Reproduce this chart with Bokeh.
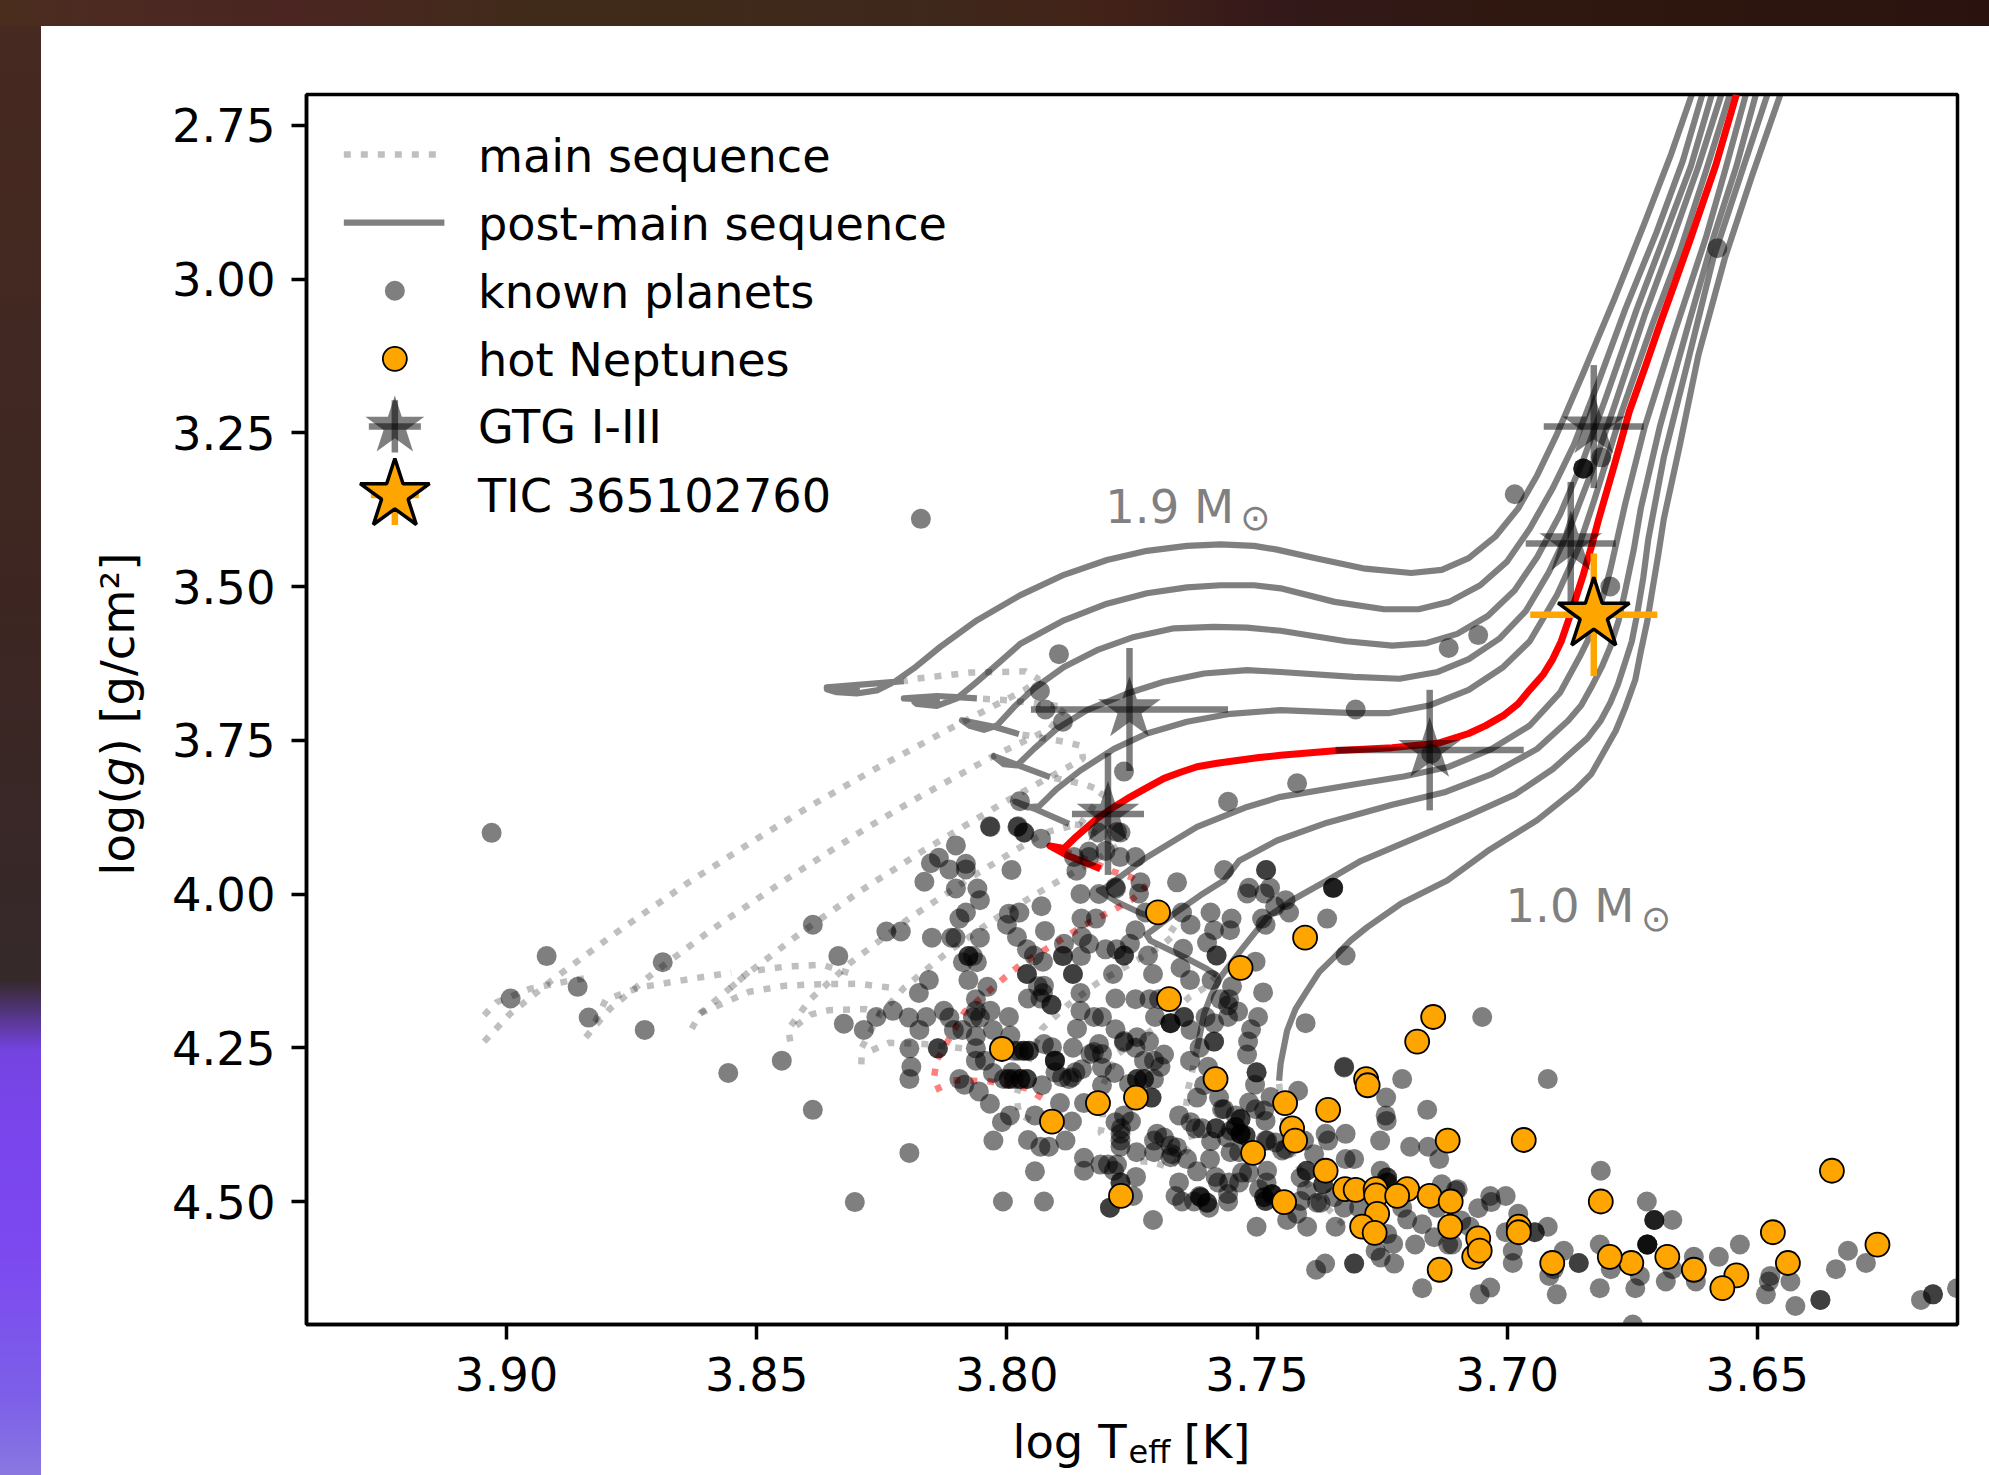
from bokeh.embed import file_html
from bokeh.resources import INLINE
from bokeh.plotting import figure
from bokeh.models import Range1d, FixedTicker, Label

# ---------- axes ----------
x_ticks = [3.90, 3.85, 3.80, 3.75, 3.70, 3.65]
y_ticks = [2.75, 3.00, 3.25, 3.50, 3.75, 4.00, 4.25, 4.50]
x_tick_labels = ["3.90", "3.85", "3.80", "3.75", "3.70", "3.65"]
y_tick_labels = ["2.75", "3.00", "3.25", "3.50", "3.75", "4.00", "4.25", "4.50"]
legend_labels = ["main sequence", "post-main sequence", "known planets", "hot Neptunes", "GTG I-III", "TIC 365102760"]

# ---------- post-main-sequence tracks (log Teff, log g), 1.9 ... 1.0 Msun ----------
post_19 = [(3.8206,3.654),(3.8286,3.659),(3.836,3.664),(3.83,3.666),(3.836,3.667),(3.834,3.672),(3.83,3.674),(3.826,3.669),(3.8223,3.654),(3.8186,3.633),(3.8133,3.598),(3.806,3.555),(3.7973,3.514),(3.7886,3.481),(3.78,3.457),(3.772,3.442),(3.764,3.434),(3.7573,3.4315),(3.7506,3.434),(3.746,3.44),(3.7383,3.454),(3.7284,3.471),(3.7192,3.478),(3.7131,3.473),(3.7077,3.454),(3.7024,3.419),(3.6978,3.373),(3.694,3.319),(3.6901,3.253),(3.6848,3.153),(3.6786,3.033),(3.6725,2.908),(3.6672,2.796),(3.6631,2.7)]
post_18 = [(3.806,3.682),(3.81,3.68),(3.814,3.678),(3.8206,3.682),(3.814,3.685),(3.8185,3.688),(3.818,3.691),(3.814,3.694),(3.81,3.682),(3.806,3.655),(3.8026,3.631),(3.7973,3.593),(3.7886,3.555),(3.78,3.528),(3.772,3.511),(3.764,3.5015),(3.7573,3.498),(3.7506,3.498),(3.7453,3.503),(3.7345,3.525),(3.7246,3.537),(3.7177,3.537),(3.7116,3.525),(3.7054,3.498),(3.7001,3.46),(3.6955,3.406),(3.6909,3.34),(3.6867,3.27),(3.6817,3.166),(3.6764,3.049),(3.6702,2.925),(3.6649,2.808),(3.661,2.7)]
post_17 = [(3.7976,3.74),(3.8026,3.728),(3.809,3.7175),(3.8073,3.727),(3.8046,3.733),(3.802,3.726),(3.7986,3.696),(3.7946,3.666),(3.7886,3.631),(3.782,3.6035),(3.7746,3.582),(3.7666,3.568),(3.7586,3.5655),(3.752,3.567),(3.7453,3.572),(3.7322,3.589),(3.723,3.596),(3.7161,3.592),(3.71,3.577),(3.7039,3.548),(3.6985,3.506),(3.694,3.452),(3.6894,3.382),(3.6848,3.294),(3.6802,3.191),(3.6741,3.049),(3.6687,2.933),(3.6633,2.817),(3.6591,2.7)]
post_16 = [(3.7914,3.81),(3.7986,3.788),(3.8026,3.776),(3.8006,3.789),(3.798,3.791),(3.7946,3.764),(3.79,3.731),(3.784,3.701),(3.776,3.674),(3.7686,3.655),(3.7606,3.6415),(3.752,3.636),(3.7453,3.639),(3.7307,3.647),(3.7215,3.65),(3.7139,3.639),(3.7077,3.618),(3.7016,3.585),(3.6963,3.54),(3.6917,3.477),(3.6875,3.406),(3.6832,3.315),(3.6786,3.207),(3.6725,3.058),(3.6672,2.941),(3.6618,2.817),(3.6572,2.7)]
post_15 = [(3.7876,3.886),(3.7946,3.861),(3.7983,3.85),(3.796,3.859),(3.7936,3.8575),(3.79,3.829),(3.7853,3.799),(3.7786,3.764),(3.772,3.739),(3.764,3.72),(3.7553,3.707),(3.7453,3.701),(3.7307,3.706),(3.7238,3.706),(3.7154,3.693),(3.7077,3.668),(3.7008,3.631),(3.6955,3.589),(3.6901,3.5145),(3.6859,3.44),(3.6825,3.357),(3.6771,3.2155),(3.671,3.074),(3.6656,2.958),(3.6603,2.825),(3.6555,2.7)]
post_14 = [(3.7813,3.959),(3.788,3.937),(3.7914,3.922),(3.7886,3.926),(3.7866,3.91),(3.7843,3.8938),(3.782,3.8775),(3.7786,3.8585),(3.7753,3.842),(3.772,3.8271),(3.7686,3.812),(3.7653,3.8021),(3.762,3.793),(3.758,3.7875),(3.754,3.783),(3.7496,3.7782),(3.7453,3.7744),(3.7345,3.767),(3.723,3.762),(3.7139,3.755),(3.7077,3.739),(3.7043,3.7262),(3.7008,3.71),(3.6978,3.6906),(3.6955,3.668),(3.6928,3.6431),(3.6909,3.618),(3.6892,3.589),(3.6878,3.556),(3.6863,3.519),(3.6848,3.481),(3.6832,3.436),(3.6817,3.39),(3.6786,3.3027),(3.6756,3.2155),(3.6725,3.145),(3.6695,3.074),(3.6664,3.004),(3.6633,2.933),(3.6584,2.817),(3.6542,2.7)]
post_13 = [(3.77,4.04),(3.7733,4.031),(3.778,4.013),(3.7816,3.994),(3.7806,3.9915),(3.772,3.94),(3.762,3.891),(3.752,3.8585),(3.7453,3.842),(3.7307,3.822),(3.7207,3.809),(3.7116,3.793),(3.7031,3.764),(3.6955,3.726),(3.6894,3.672),(3.6855,3.614),(3.6839,3.5876),(3.6825,3.556),(3.6808,3.5145),(3.6794,3.473),(3.6779,3.419),(3.6764,3.365),(3.6725,3.24),(3.6664,3.083),(3.6603,2.933),(3.6565,2.825),(3.6523,2.7)]
post_12 = [(3.758,4.1325),(3.76,4.122),(3.764,4.105),(3.768,4.089),(3.7713,4.076),(3.7721,4.066),(3.7706,4.057),(3.7666,4.032),(3.7613,4.002),(3.7566,3.978),(3.7536,3.946),(3.746,3.913),(3.736,3.884),(3.723,3.855),(3.7123,3.834),(3.7031,3.805),(3.694,3.764),(3.6878,3.718),(3.6852,3.6931),(3.6832,3.664),(3.6811,3.6308),(3.6794,3.598),(3.6777,3.5544),(3.6764,3.506),(3.6747,3.4397),(3.6733,3.373),(3.6695,3.24),(3.6641,3.083),(3.6588,2.933),(3.6542,2.817),(3.6503,2.7)]
post_11 = [(3.762,4.252),(3.7606,4.195),(3.7592,4.1651),(3.7573,4.135),(3.7553,4.1136),(3.7533,4.092),(3.748,4.038),(3.7426,4.008),(3.736,3.978),(3.7292,3.946),(3.7207,3.917),(3.7077,3.872),(3.6985,3.8385),(3.6909,3.797),(3.684,3.747),(3.6813,3.718),(3.6794,3.689),(3.6779,3.6599),(3.6764,3.6225),(3.6751,3.5892),(3.6741,3.548),(3.6728,3.4854),(3.6718,3.423),(3.6687,3.29),(3.6641,3.141),(3.6588,2.966),(3.6534,2.833),(3.648,2.7)]
post_10 = [(3.7456,4.3035),(3.7453,4.276),(3.744,4.222),(3.7423,4.1868),(3.74,4.157),(3.7376,4.1271),(3.7346,4.103),(3.7313,4.0756),(3.728,4.054),(3.7213,4.016),(3.712,3.978),(3.7039,3.93),(3.694,3.88),(3.6863,3.83),(3.6832,3.805),(3.6809,3.772),(3.6783,3.7346),(3.6764,3.697),(3.6744,3.6516),(3.6733,3.606),(3.672,3.556),(3.671,3.506),(3.6698,3.448),(3.6687,3.39),(3.6656,3.274),(3.6618,3.124),(3.6565,2.966),(3.6511,2.833),(3.6454,2.7)]

# ---------- main-sequence tracks ----------
ms_19 = [(3.9045,4.24),(3.8994,4.1955),(3.891,4.1405),(3.879,4.068),(3.8639,3.9825),(3.8484,3.902),(3.8391,3.856),(3.8262,3.796),(3.8101,3.7256),(3.7966,3.669),(3.7936,3.651),(3.7963,3.638),(3.8073,3.64),(3.8183,3.65),(3.8206,3.654)]
ms_19b = [(3.9045,4.197),(3.902,4.176),(3.8953,4.154),(3.888,4.142),(3.8844,4.137)]
ms_18 = [(3.8842,4.233),(3.8794,4.187),(3.8708,4.1295),(3.8591,4.0585),(3.8439,3.975),(3.8284,3.8945),(3.8188,3.848),(3.8028,3.776),(3.7913,3.731),(3.7883,3.696),(3.7996,3.685),(3.806,3.682)]
ms_18b = [(3.8823,4.208),(3.8802,4.172),(3.8734,4.152),(3.8624,4.137),(3.8551,4.128)]
ms_17 = [(3.863,4.219),(3.8613,4.194),(3.8526,4.134),(3.841,4.062),(3.829,3.9935),(3.8166,3.929),(3.8008,3.852),(3.7944,3.823),(3.788,3.7945),(3.7848,3.78),(3.7852,3.759),(3.7888,3.752),(3.7976,3.74)]
ms_17b = [(3.8613,4.194),(3.8515,4.159),(3.8443,4.149),(3.8369,4.1465),(3.8297,4.146),(3.8225,4.153)]
ms_17c = [(3.8553,4.153),(3.8515,4.126),(3.8442,4.118),(3.8369,4.115),(3.8299,4.133)]
ms_16 = [(3.8433,4.24),(3.8437,4.22),(3.8394,4.172),(3.8313,4.112),(3.8196,4.04),(3.8072,3.973),(3.7945,3.91),(3.7914,3.898),(3.7853,3.886),(3.7806,3.834),(3.7843,3.822),(3.7914,3.81)]
ms_16b = [(3.8421,4.214),(3.8392,4.196),(3.8356,4.189),(3.8284,4.187),(3.8253,4.194)]
ms_15 = [(3.8291,4.277),(3.829,4.2495),(3.8255,4.197),(3.8205,4.152),(3.8119,4.095),(3.8029,4.043),(3.7933,3.996),(3.7871,3.967),(3.7836,3.951),(3.7776,3.921),(3.7853,3.888),(3.7876,3.886)]
ms_15b = [(3.827,4.254),(3.8236,4.242),(3.8165,4.244),(3.8088,4.251)]
ms_14 = [(3.8134,4.321),(3.8146,4.299),(3.814,4.27),(3.8085,4.192),(3.8002,4.134),(3.7973,4.115),(3.7911,4.084),(3.7848,4.052),(3.7783,4.024),(3.775,4.009),(3.7723,3.99),(3.7752,3.9725),(3.7786,3.964),(3.7853,3.94),(3.7914,3.922)]
ms_14b = [(3.8107,4.303),(3.8035,4.3045),(3.796,4.316),(3.793,4.332)]
ms_13 = [(3.7953,4.3675),(3.7976,4.358),(3.7981,4.328),(3.7973,4.3035),(3.793,4.219),(3.7876,4.179),(3.7818,4.144),(3.7753,4.1135),(3.769,4.084),(3.766,4.062),(3.77,4.04)]
ms_12 = [(3.758,4.1325),(3.7603,4.1515),(3.7636,4.168),(3.7693,4.211),(3.7778,4.26),(3.781,4.314),(3.7808,4.371),(3.7813,4.388),(3.7798,4.4)]
ms_11 = [(3.762,4.252),(3.763,4.29),(3.7638,4.317),(3.7642,4.347),(3.7628,4.4065),(3.7673,4.4445),(3.771,4.436),(3.7746,4.434)]
ms_10 = [(3.7456,4.3089),(3.745,4.352),(3.744,4.4065),(3.7396,4.477),(3.7348,4.5205),(3.7321,4.542)]

# ---------- known planets (log Teff, log g) ----------
planets_west = [(3.9030,3.9005),(3.8920,4.101),(3.8992,4.170),(3.8858,4.151),(3.8836,4.201),(3.8688,4.111),(3.8724,4.221),(3.8557,4.291),(3.8450,4.271),(3.8388,4.351),(3.8388,4.050),(3.8337,4.101),(3.8326,4.211),(3.8286,4.221),(3.8304,4.501),(3.8261,4.200),(3.8241,4.061),(3.8212,4.061),(3.8228,4.190),(3.8196,4.201),(3.8161,4.200),(3.8175,4.221),(3.8195,4.251),(3.8191,4.281),(3.8195,4.301),(3.8195,4.421),(3.8138,4.251),(3.8165,3.980),(3.8152,3.950),(3.8136,3.941),(3.8102,3.921),(3.8115,3.960),(3.8082,3.951),(3.8082,3.960),(3.8102,3.991),(3.8059,3.991),(3.8054,4.010),(3.8082,4.030),(3.8095,4.040),(3.8150,4.071),(3.8111,4.071),(3.8103,4.071),(3.8054,4.071),(3.8033,3.891),(3.7979,3.891),(3.7966,3.900),(3.8088,4.111),(3.8068,4.101),(3.8060,4.111),(3.8077,4.101),(3.8077,4.140),(3.8039,4.151),(3.8156,4.140),(3.8176,4.161),(3.8126,4.190),(3.8115,4.201),(3.8106,4.221),(3.8089,4.221),(3.8062,4.171),(3.8062,4.190),(3.8033,4.190),(3.8068,4.201),(3.8054,4.201),(3.8028,4.221),(3.8062,4.231),(3.8062,4.251),(3.8062,4.271),(3.8044,4.271),(3.8095,4.301),(3.8085,4.310),(3.8056,4.321),(3.8034,4.341),(3.8028,4.291),(3.8027,4.401)]
planets_upper = [(3.8172,3.390),(3.7896,3.610),(3.7934,3.670),(3.7923,3.700),(3.7888,3.720),(3.7766,3.801),(3.7558,3.850),(3.7974,3.849),(3.7978,3.890),(3.7965,3.900),(3.8034,3.890),(3.7932,3.910),(3.7818,3.900),(3.7780,3.899),(3.7773,3.900),(3.7866,3.940),(3.7836,3.931),(3.7836,3.940),(3.7803,3.930),(3.7774,3.940),(3.7861,3.962),(3.7782,3.991),(3.7736,3.999),(3.6985,3.350),(3.6812,3.290),(3.6848,3.308),(3.6794,3.500),(3.7058,3.579),(3.7117,3.600),(3.7303,3.700),(3.7152,3.772),(3.7420,3.820),(3.6580,2.950)]
planets_mid = [(3.7991,3.961),(3.7853,4.000),(3.7816,4.000),(3.7783,3.989),(3.7931,4.020),(3.7975,4.030),(3.7996,4.032),(3.8000,4.050),(3.7924,4.060),(3.7980,4.070),(3.7960,4.090),(3.7946,4.100),(3.7928,4.110),(3.7960,4.130),(3.7886,4.081),(3.7851,4.040),(3.7822,4.040),(3.7850,4.070),(3.7836,4.081),(3.7888,4.101),(3.7852,4.101),(3.7868,4.130),(3.7803,4.090),(3.7781,4.090),(3.7766,4.100),(3.7754,4.081),(3.7788,4.130),(3.7783,4.170),(3.7853,4.161),(3.7926,4.149),(3.7938,4.150),(3.7928,4.161),(3.7958,4.170),(3.7933,4.170),(3.7911,4.180),(3.7853,4.190),(3.7826,4.200),(3.7810,4.200),(3.7860,4.219),(3.7783,4.220),(3.7766,4.239),(3.7996,4.200),(3.7993,4.230)]
planets_south = [(3.7966,4.255),(3.7976,4.255),(3.7956,4.255),(3.7986,4.255),(3.7926,4.244),(3.7910,4.249),(3.7868,4.250),(3.7904,4.271),(3.8006,4.301),(3.7996,4.301),(3.7986,4.301),(3.7960,4.301),(3.7973,4.301),(3.7930,4.311),(3.7990,4.290),(3.7903,4.290),(3.7890,4.298),(3.7876,4.301),(3.7870,4.298),(3.7850,4.285),(3.7863,4.290),(3.7833,4.260),(3.7826,4.257),(3.7810,4.260),(3.7816,4.244),(3.7810,4.282),(3.7785,4.291),(3.7766,4.241),(3.7706,4.271),(3.7706,4.301),(3.7726,4.301),(3.7756,4.309),(3.7740,4.301),(3.7711,4.331),(3.7810,4.311),(3.7894,4.340),(3.7846,4.340),(3.7870,4.370),(3.7883,4.401),(3.7944,4.360),(3.7994,4.360),(3.8010,4.371),(3.7958,4.400),(3.7933,4.411),(3.7916,4.411),(3.7944,4.451),(3.8008,4.500),(3.7926,4.500),(3.7846,4.429),(3.7846,4.450),(3.7813,4.440),(3.7798,4.440),(3.7780,4.440),(3.7786,4.450),(3.7766,4.360),(3.7783,4.371),(3.7752,4.370),(3.7772,4.381),(3.7773,4.390),(3.7773,4.401),(3.7773,4.411),(3.7741,4.420),(3.7706,4.420),(3.7706,4.401),(3.7700,4.390),(3.7686,4.396),(3.7673,4.409),(3.7660,4.412),(3.7670,4.423),(3.7673,4.428),(3.7742,4.460),(3.7773,4.469),(3.7748,4.491),(3.7794,4.510),(3.7708,4.530),(3.7656,4.469),(3.7663,4.491),(3.7650,4.500),(3.7626,4.500),(3.7615,4.491),(3.7613,4.493),(3.7600,4.502),(3.7596,4.510),(3.7558,4.500),(3.7558,4.488),(3.7640,4.431),(3.7620,4.451),(3.7594,4.431),(3.7583,4.460),(3.7578,4.469),(3.7656,4.360),(3.7633,4.371),(3.7623,4.381),(3.7610,4.381),(3.7582,4.381),(3.7592,4.402),(3.7570,4.350),(3.7620,4.331),(3.7576,4.331),(3.7606,4.311)]
planets_east = [(3.7743,3.940),(3.7733,3.981),(3.7660,3.981),(3.7566,3.961),(3.7482,3.961),(3.7516,3.990),(3.7520,3.999),(3.7474,3.990),(3.7485,3.999),(3.7348,3.990),(3.7443,4.010),(3.7464,4.020),(3.7436,4.030),(3.7490,4.040),(3.7483,4.050),(3.7593,4.030),(3.7551,4.040),(3.7586,4.059),(3.7554,4.059),(3.7600,4.079),(3.7581,4.100),(3.7650,4.030),(3.7633,4.050),(3.7648,4.089),(3.7653,4.120),(3.7634,4.140),(3.7360,4.040),(3.7723,4.030),(3.7743,4.059),(3.7718,4.100),(3.7708,4.130),(3.7503,4.110),(3.7323,4.100),(3.7591,4.140),(3.7550,4.150),(3.7573,4.171),(3.7556,4.171),(3.7558,4.181),(3.7538,4.191),(3.7558,4.200),(3.7488,4.160),(3.7498,4.200),(3.7512,4.220),(3.7518,4.240),(3.7520,4.261),(3.7403,4.210),(3.7603,4.200),(3.7586,4.210),(3.7586,4.240),(3.7615,4.250),(3.7634,4.271),(3.7743,4.171),(3.7715,4.171),(3.7704,4.200),(3.7696,4.171),(3.7646,4.200),(3.7673,4.210),(3.7633,4.221),(3.7740,4.233),(3.7716,4.240),(3.7743,4.250),(3.7726,4.271),(3.7693,4.281),(3.7686,4.261),(3.7326,4.281),(3.7598,4.281)]
planets_core = [(3.7501,4.290),(3.7504,4.310),(3.7418,4.320),(3.7473,4.330),(3.7516,4.339),(3.7503,4.350),(3.7483,4.369),(3.7486,4.352),(3.7566,4.350),(3.7543,4.360),(3.7533,4.366),(3.7543,4.379),(3.7533,4.390),(3.7553,4.385),(3.7560,4.396),(3.7523,4.393),(3.7553,4.420),(3.7536,4.420),(3.7480,4.401),(3.7483,4.401),(3.7463,4.404),(3.7450,4.417),(3.7443,4.415),(3.7406,4.401),(3.7386,4.423),(3.7480,4.450),(3.7530,4.453),(3.7536,4.469),(3.7516,4.453),(3.7556,4.469),(3.7481,4.469),(3.7496,4.480),(3.7486,4.493),(3.7483,4.499),(3.7470,4.488),(3.7413,4.461),(3.7401,4.450),(3.7368,4.472),(3.7501,4.541),(3.7440,4.530),(3.7420,4.520),(3.7400,4.541),(3.7401,4.482),(3.7413,4.499),(3.7380,4.502),(3.7373,4.502),(3.7343,4.541),(3.7326,4.510),(3.7346,4.493),(3.7382,4.611),(3.7364,4.601),(3.7306,4.601),(3.7253,4.591),(3.7263,4.580),(3.7226,4.601),(3.7228,4.569),(3.7240,4.553),(3.7184,4.570),(3.7170,4.641),(3.7253,4.450),(3.7240,4.461),(3.7240,4.469),(3.7326,4.282),(3.7210,4.301),(3.7242,4.331),(3.7243,4.360),(3.7241,4.369),(3.7160,4.351),(3.7254,4.401),(3.7194,4.411),(3.7158,4.411),(3.7136,4.431),(3.7131,4.472),(3.7103,4.482),(3.7140,4.510),(3.7170,4.537),(3.7146,4.558),(3.7118,4.570),(3.7200,4.529),(3.7210,4.510),(3.7296,4.510),(3.7363,4.390),(3.7358,4.401),(3.7323,4.390),(3.7323,4.431),(3.7306,4.431)]
planets_cool = [(3.7050,4.200),(3.6919,4.301),(3.6813,4.450),(3.7099,4.480),(3.7034,4.491),(3.7032,4.501),(3.7058,4.511),(3.7003,4.491),(3.6978,4.520),(3.6919,4.541),(3.6945,4.550),(3.7003,4.550),(3.6989,4.580),(3.6989,4.600),(3.7092,4.531),(3.7075,4.541),(3.6887,4.580),(3.6907,4.610),(3.6916,4.621),(3.6901,4.651),(3.6857,4.600),(3.6815,4.570),(3.6815,4.641),(3.6793,4.610),(3.6735,4.621),(3.6744,4.641),(3.6749,4.700),(3.6721,4.500),(3.6706,4.530),(3.6670,4.530),(3.6720,4.570),(3.6683,4.630),(3.6670,4.610),(3.6627,4.590),(3.6623,4.630),(3.6577,4.590),(3.6535,4.570),(3.7034,4.640),(3.7055,4.651),(3.7110,4.570),(3.6474,4.621),(3.6477,4.630),(3.6483,4.651),(3.6434,4.630),(3.6424,4.670),(3.6374,4.660),(3.6343,4.610),(3.6319,4.580),(3.6283,4.600),(3.6173,4.660),(3.6149,4.651),(3.6101,4.641)]
# positions where several planets coincide and the dots look darker
planets_repeated = [(3.8138,4.251),(3.8077,4.101),(3.7960,4.130),(3.7888,4.101),(3.7868,4.130),(3.7766,4.100),(3.7911,4.180),(3.7966,4.255),(3.7956,4.255),(3.7904,4.271),(3.7904,4.271),(3.7996,4.301),(3.7973,4.301),(3.7960,4.301),(3.7711,4.331),(3.7740,4.301),(3.7726,4.301),(3.7613,4.493),(3.7600,4.502),(3.7773,4.469),(3.7794,4.510),(3.7582,4.381),(3.7482,3.961),(3.7348,3.990),(3.7348,3.990),(3.7581,4.100),(3.7646,4.200),(3.7673,4.210),(3.7673,4.210),(3.7586,4.240),(3.7501,4.290),(3.7533,4.366),(3.7533,4.390),(3.7543,4.379),(3.7533,4.390),(3.7523,4.393),(3.7486,4.493),(3.7483,4.499),(3.7470,4.488),(3.7470,4.488),(3.7401,4.450),(3.7368,4.472),(3.7240,4.461),(3.7240,4.469),(3.7306,4.601),(3.6945,4.550),(3.6857,4.600),(3.6706,4.530),(3.6706,4.530),(3.6720,4.570),(3.6720,4.570),(3.6720,4.570),(3.6374,4.660),(3.6149,4.651),(3.6848,3.308),(3.6848,3.308)]

# ---------- hot Neptunes ----------
neptunes = [(3.7444,4.340),(3.7358,4.351),(3.7282,4.301),(3.7279,4.311),(3.7430,4.381),(3.7424,4.401),(3.7508,4.421),(3.7363,4.450),(3.7119,4.401),(3.7446,4.501),(3.7324,4.480),(3.7303,4.481),(3.7263,4.480),(3.7262,4.490),(3.7200,4.480),(3.7220,4.491),(3.7155,4.491),(3.7113,4.500),(3.7260,4.520),(3.7290,4.541),(3.7265,4.551),(3.7114,4.541),(3.7135,4.611),(3.7583,4.301),(3.8010,4.252),(3.7910,4.370),(3.7818,4.340),(3.7742,4.331),(3.7772,4.491),(3.7698,4.030),(3.7404,4.071),(3.7533,4.120),(3.7676,4.171),(3.7148,4.200),(3.7180,4.240),(3.6967,4.400),(3.6813,4.500),(3.6351,4.450),(3.6469,4.550),(3.6260,4.570),(3.6439,4.600),(3.6542,4.620),(3.6570,4.641),(3.6627,4.611),(3.6680,4.590),(3.6752,4.600),(3.6795,4.590),(3.6910,4.600),(3.6977,4.541),(3.6977,4.550),(3.7058,4.560),(3.7066,4.590),(3.7055,4.580)]

# ---------- stars: log Teff, log g, errors ----------
gtg_logT = [3.6827, 3.6873, 3.7155, 3.7755, 3.7798]
gtg_logg = [3.240, 3.430, 3.766, 3.700, 3.870]
gtg_xerr = [0.0100, 0.0090, 0.0188, 0.0197, 0.0072]
gtg_yerr = [0.100, 0.100, 0.098, 0.100, 0.099]
tic_logT = [3.6827]
tic_logg = [3.546]
tic_xerr = [0.0127]
tic_yerr = [0.0997]

# ---------- geometry helpers: reference pixels to axis values (layout only) ----------
X0, Y0 = 3.70, 2.75
def vx(px):
    return X0 + (1506.7 - px) / 5000.0
def vy(py):
    return Y0 + (py - 125.7) / 614.3

xs = lambda t: [a for a, _ in t]
ys = lambda t: [b for _, b in t]

FONT = "DejaVu Sans"
FS = "46.5px"
LEG = "46.2px"

p = figure(width=1989, height=1475, output_backend="svg", toolbar_location=None,
           x_range=Range1d(3.94, 3.61), y_range=Range1d(4.70, 2.70),
           min_border_left=306, min_border_right=32, min_border_top=94, min_border_bottom=151,
           background_fill_color="white", border_fill_color=None,
           outline_line_color="black", outline_line_width=3.5, outline_line_alpha=1)
p.grid.visible = False

for ax, ticks, labels in ((p.xaxis[0], x_ticks, x_tick_labels), (p.yaxis[0], y_ticks, y_tick_labels)):
    ax.ticker = FixedTicker(ticks=ticks)
    ax.major_label_overrides = dict(zip(ticks, labels))
    ax.major_label_text_font = FONT
    ax.major_label_text_font_size = FS
    ax.major_label_text_color = "black"
    ax.major_tick_out = 15
    ax.major_tick_in = 0
    ax.major_tick_line_width = 3.5
    ax.major_tick_line_color = "black"
    ax.minor_tick_line_color = None
    ax.axis_line_width = 3.5
    ax.axis_line_color = "black"
p.xaxis[0].major_label_standoff = 17
p.yaxis[0].major_label_standoff = 16

# ---------- slide backdrop round the white panel, painted behind the canvas ----------
top_backdrop = ("linear-gradient(90deg,#4a2d1d 0,#4c2a22 100px,#4a2521 300px,#412a1a 520px,#3f2a19 650px,"
                "#3e281c 900px,#432318 1100px,#34181a 1280px,#2f180f 1550px,#2a130e 1989px)")
left_backdrop = ("linear-gradient(180deg,#472a20 0,#3d2622 600px,#35292a 980px,#7443e0 1050px,#7a45ec 1130px,"
                 "#7c48f0 1250px,#7c60e8 1400px,#8a78e0 1475px)")
white_panel = "linear-gradient(#fff,#fff)"
p.styles = {
    "background-image": ", ".join([white_panel, top_backdrop, left_backdrop]),
    "background-size": "1948px 1449px, 1989px 26px, 41px 1475px",
    "background-position": "41px 26px, 0 0, 0 0",
    "background-repeat": "no-repeat",
}

# ---------- tracks ----------
ms_gray = [ms_19, ms_19b, ms_18, ms_18b, ms_17, ms_17b, ms_17c, ms_16, ms_16b, ms_15, ms_15b, ms_13, ms_12, ms_11, ms_10]
for t in ms_gray:
    p.line(xs(t), ys(t), line_color="black", line_alpha=0.25, line_width=6.5, line_dash="7 10", line_cap="butt")
for t in (ms_14, ms_14b):
    p.line(xs(t), ys(t), line_color="red", line_alpha=0.5, line_width=6.5, line_dash="7 10", line_cap="butt")
for t in (post_19, post_18, post_17, post_16, post_15, post_13, post_12, post_11, post_10):
    p.line(xs(t), ys(t), line_color="black", line_alpha=0.5, line_width=6.2, line_join="round")
p.line(xs(post_14), ys(post_14), line_color="red", line_width=7, line_join="round")

# ---------- planets ----------
all_planets = planets_west + planets_upper + planets_mid + planets_south + planets_east + planets_core + planets_cool + planets_repeated
p.scatter(xs(all_planets), ys(all_planets), size=20, color="black", alpha=0.5, line_color=None)

# ---------- GTG ----------
p.segment([a - e for a, e in zip(gtg_logT, gtg_xerr)], gtg_logg, [a + e for a, e in zip(gtg_logT, gtg_xerr)], gtg_logg,
          line_color="black", line_alpha=0.5, line_width=6.5)
p.segment(gtg_logT, [a - e for a, e in zip(gtg_logg, gtg_yerr)], gtg_logT, [a + e for a, e in zip(gtg_logg, gtg_yerr)],
          line_color="black", line_alpha=0.5, line_width=6.5)
p.scatter(gtg_logT, gtg_logg, marker="star", size=66, color="black", alpha=0.5, line_color=None)

# ---------- hot Neptunes ----------
p.scatter(xs(neptunes), ys(neptunes), size=24, fill_color="orange", line_color="black", line_width=1.8)

# ---------- TIC ----------
p.segment([a - e for a, e in zip(tic_logT, tic_xerr)], tic_logg, [a + e for a, e in zip(tic_logT, tic_xerr)], tic_logg,
          line_color="orange", line_width=6.5)
p.segment(tic_logT, [a - e for a, e in zip(tic_logg, tic_yerr)], tic_logT, [a + e for a, e in zip(tic_logg, tic_yerr)],
          line_color="orange", line_width=6.5)
p.scatter(tic_logT, tic_logg, marker="star", size=75, fill_color="orange", line_color="black", line_width=3.5)

# ---------- legend, drawn by hand so that its markers keep their sizes ----------
rows = [155, 223, 291, 359, 426.5, 495]
hx0, hx1, hxc, tx = 344, 444.5, 395, 478
p.line([vx(hx0), vx(hx1)], [vy(rows[0])] * 2, line_color="black", line_alpha=0.25, line_width=6.5, line_dash="7 10", line_cap="butt")
p.line([vx(hx0), vx(hx1)], [vy(rows[1])] * 2, line_color="black", line_alpha=0.5, line_width=6.2)
p.scatter([vx(hxc)], [vy(rows[2])], size=20, color="black", alpha=0.5, line_color=None)
p.scatter([vx(hxc)], [vy(rows[3])], size=24, fill_color="orange", line_color="black", line_width=1.8)
p.segment([vx(hxc - 26)], [vy(rows[4])], [vx(hxc + 26)], [vy(rows[4])], line_color="black", line_alpha=0.5, line_width=6.5)
p.segment([vx(hxc)], [vy(rows[4] - 26)], [vx(hxc)], [vy(rows[4] + 26)], line_color="black", line_alpha=0.5, line_width=6.5)
p.scatter([vx(hxc)], [vy(rows[4])], marker="star", size=62, color="black", alpha=0.5, line_color=None)
p.segment([vx(hxc - 24)], [vy(rows[5])], [vx(hxc + 24)], [vy(rows[5])], line_color="orange", line_width=6.5)
p.segment([vx(hxc)], [vy(rows[5] - 30)], [vx(hxc)], [vy(rows[5] + 30)], line_color="orange", line_width=6.5)
p.scatter([vx(hxc)], [vy(rows[5])], marker="star", size=73, fill_color="orange", line_color="black", line_width=3.5)
for r, txt in zip(rows, legend_labels):
    p.add_layout(Label(x=vx(tx), y=vy(r + 1), text=txt, text_font=FONT, text_font_size=LEG, text_color="black",
                       text_baseline="middle", text_align="left"))

# ---------- mass labels ----------
def lab(px, py, text, size=FS, color="black", **kw):
    p.add_layout(Label(x=vx(px), y=vy(py), text=text, text_font=FONT, text_font_size=size, text_color=color, **kw))

for (a, b, sx, sy), t in zip(((1105, 507, 1255, 518), (1505, 906, 1655.4, 918.5)), ("1.9 M", "1.0 M")):
    lab(a, b, t, color="#808080", text_baseline="alphabetic")
    lab(sx, sy, "\u2299", size="36px", color="#808080", text_baseline="middle", text_align="center")

# ---------- axis titles, in the side panels so that they are not cut at the frame ----------
def title(px, py, text, side, size=FS, **kw):
    p.add_layout(Label(x=px, y=py, x_units="canvas", y_units="canvas", text=text, text_font=FONT,
                       text_font_size=size, text_color="black", text_baseline="alphabetic", **kw), side)

title(1012, 1441, "log T", "below")
title(1128, 1451, "eff", "above", size="32px")
title(1183, 1441, "[K]", "above")

title(117, 875, "log(", "left", angle=90, angle_units="deg")
title(117, 786, "g", "left", angle=90, angle_units="deg", text_font_style="italic")
title(117, 756, ") [g/cm\u00b2]", "left", angle=90, angle_units="deg")

open("out.html", "w").write(file_html(p, INLINE))
